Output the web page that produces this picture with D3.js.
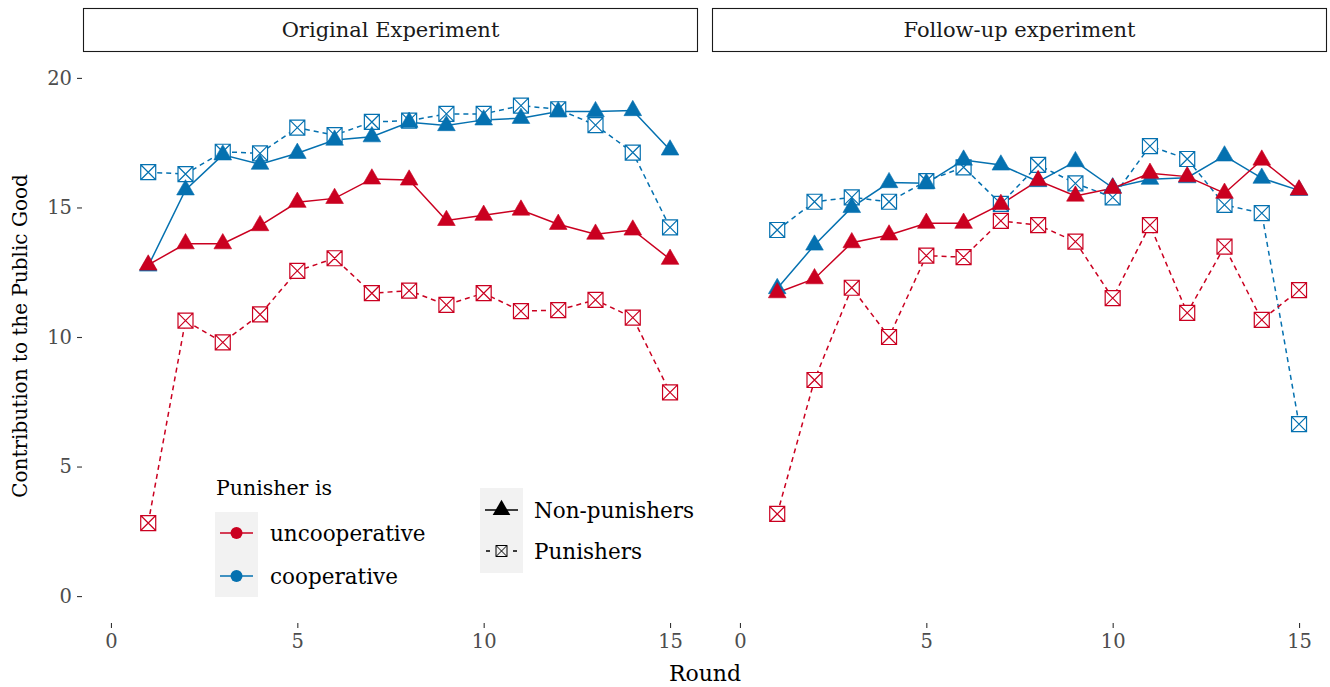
<!DOCTYPE html>
<html>
<head>
<meta charset="utf-8">
<script src="https://cdn.jsdelivr.net/npm/d3@7"></script>
<style>
  body { margin: 0; background: #ffffff; }
  svg { display: block; font-family: "DejaVu Serif", serif; }
</style>
</head>
<body>
<div id="chart"></div>
<script>
// data
var rounds = [1, 2, 3, 4, 5, 6, 7, 8, 9, 10, 11, 12, 13, 14, 15];
var panels = ["Original Experiment", "Follow-up experiment"];

// original experiment
var origUncoopNonPun = [12.78, 13.6, 13.6, 14.3, 15.2, 15.35, 16.1, 16.06, 14.5, 14.7, 14.9, 14.35, 13.97, 14.13, 13.0];
var origCoopNonPun = [12.74, 15.68, 17.03, 16.67, 17.09, 17.6, 17.73, 18.29, 18.16, 18.38, 18.44, 18.7, 18.7, 18.74, 17.22];
var origCoopPun = [16.36, 16.29, 17.15, 17.09, 18.08, 17.79, 18.3, 18.35, 18.61, 18.61, 18.93, 18.79, 18.18, 17.12, 14.23];
var origUncoopPun = [2.82, 10.63, 9.79, 10.87, 12.55, 13.04, 11.69, 11.79, 11.24, 11.69, 11.0, 11.04, 11.43, 10.75, 7.86];

// follow-up experiment
var follUncoopNonPun = [11.71, 12.25, 13.64, 13.94, 14.39, 14.39, 15.12, 16.04, 15.44, 15.74, 16.32, 16.19, 15.55, 16.83, 15.68];
var follCoopNonPun = [11.87, 13.55, 15.0, 15.96, 15.93, 16.83, 16.64, 16.0, 16.77, 15.76, 16.09, 16.15, 16.99, 16.13, 15.66];
var follCoopPun = [14.13, 15.22, 15.39, 15.22, 16.02, 16.55, 15.14, 16.64, 15.93, 15.39, 17.37, 16.87, 15.1, 14.78, 6.64];
var follUncoopPun = [3.17, 8.34, 11.9, 10.0, 13.14, 13.08, 14.48, 14.32, 13.68, 11.5, 14.32, 10.93, 13.49, 10.66, 11.81];

var xTicks = [0, 5, 10, 15];
var yTicks = [0, 5, 10, 15, 20];
var punisherLevels = ["uncooperative", "cooperative"];
var typeLevels = ["Non-punishers", "Punishers"];

var width = 1330,
  height = 687;
var panelLeft = [83, 712],
  panelWidth = 615;
var panelTop = 52,
  panelBottom = 622;

var color = d3.scaleOrdinal().domain(punisherLevels).range(["#CA0020", "#0571B0"]);

var svg = d3
  .select("#chart")
  .append("svg")
  .attr("width", width)
  .attr("height", height);

var y = d3.scaleLinear().domain([-1, 21]).range([panelBottom, panelTop]);

// series for each panel
var panelData = [
  [
    { punisher: "cooperative", type: "Punishers", values: origCoopPun },
    { punisher: "uncooperative", type: "Punishers", values: origUncoopPun },
    { punisher: "cooperative", type: "Non-punishers", values: origCoopNonPun },
    { punisher: "uncooperative", type: "Non-punishers", values: origUncoopNonPun },
  ],
  [
    { punisher: "cooperative", type: "Punishers", values: follCoopPun },
    { punisher: "uncooperative", type: "Punishers", values: follUncoopPun },
    { punisher: "cooperative", type: "Non-punishers", values: follCoopNonPun },
    { punisher: "uncooperative", type: "Non-punishers", values: follUncoopNonPun },
  ],
];

// square with a cross, like ggplot shape 7
function squareX(s) {
  var h = s / 2;
  return "M" + -h + "," + -h + "H" + h + "V" + h + "H" + -h + "Z" +
    "M" + -h + "," + -h + "L" + h + "," + h +
    "M" + h + "," + -h + "L" + -h + "," + h;
}
var triangle = d3.symbol().type(d3.symbolTriangle).size(135);

panels.forEach(function (name, p) {
  var x = d3
    .scaleLinear()
    .domain([-0.75, 15.75])
    .range([panelLeft[p], panelLeft[p] + panelWidth]);

  var g = svg.append("g");

  // strip
  g.append("rect")
    .attr("x", panelLeft[p] + 0.5)
    .attr("y", 8.5)
    .attr("width", panelWidth - 1)
    .attr("height", panelTop - 9)
    .attr("fill", "#ffffff")
    .attr("stroke", "#1a1a1a")
    .attr("stroke-width", 1.1);
  g.append("text")
    .attr("x", panelLeft[p] + panelWidth / 2)
    .attr("y", 30)
    .attr("dy", "0.35em")
    .attr("text-anchor", "middle")
    .attr("font-size", "21px")
    .attr("fill", "#1a1a1a")
    .text(name);

  // x axis
  var xAxis = g
    .append("g")
    .attr("transform", "translate(0," + (panelBottom + 1) + ")")
    .call(d3.axisBottom(x).tickValues(xTicks).tickSize(5).tickPadding(6));
  xAxis.select(".domain").remove();
  xAxis.selectAll("line").attr("stroke", "#333333").attr("stroke-width", 1.1);
  xAxis.selectAll("text").attr("font-size", "19.5px").attr("fill", "#4d4d4d").attr("font-family", "DejaVu Serif, serif");

  var line = d3
    .line()
    .x(function (d, i) { return x(rounds[i]); })
    .y(function (d) { return y(d); });

  // lines
  g.selectAll(".series")
    .data(panelData[p])
    .join("path")
    .attr("class", "series")
    .attr("d", function (d) { return line(d.values); })
    .attr("fill", "none")
    .attr("stroke", function (d) { return color(d.punisher); })
    .attr("stroke-width", 1.5)
    .attr("stroke-dasharray", function (d) { return d.type == "Punishers" ? "5,4" : null; });

  // points
  panelData[p].forEach(function (s) {
    var pts = g
      .append("g")
      .selectAll("path")
      .data(s.values)
      .join("path")
      .attr("transform", function (d, i) { return "translate(" + x(rounds[i]) + "," + y(d) + ")"; })
      .attr("stroke", color(s.punisher));
    if (s.type == "Punishers") {
      pts.attr("d", squareX(15)).attr("fill", "#ffffff").attr("stroke-width", 1.2);
    } else {
      pts.attr("d", triangle).attr("fill", color(s.punisher)).attr("stroke-width", 0.6);
    }
  });
});

// y axis on the left panel
var yAxis = svg
  .append("g")
  .attr("transform", "translate(" + (panelLeft[0] - 1) + ",0)")
  .call(d3.axisLeft(y).tickValues(yTicks).tickSize(5).tickPadding(5));
yAxis.select(".domain").remove();
yAxis.selectAll("line").attr("stroke", "#333333").attr("stroke-width", 1.1);
yAxis.selectAll("text").attr("font-size", "19.5px").attr("fill", "#4d4d4d").attr("font-family", "DejaVu Serif, serif");

// axis titles
svg.append("text")
  .attr("x", 705)
  .attr("y", 673)
  .attr("dy", "0.35em")
  .attr("text-anchor", "middle")
  .attr("font-size", "22px")
  .attr("fill", "#000000")
  .text("Round");
svg.append("text")
  .attr("transform", "translate(20," + 336 + ") rotate(-90)")
  .attr("dy", "0.35em")
  .attr("text-anchor", "middle")
  .attr("font-size", "20px")
  .attr("fill", "#000000")
  .text("Contribution to the Public Good");

// legend: punisher colour
var leg1 = svg.append("g").attr("transform", "translate(215,0)");
leg1.append("text")
  .attr("x", 1)
  .attr("y", 488)
  .attr("dy", "0.35em")
  .attr("font-size", "20.5px")
  .text("Punisher is");
leg1.append("rect")
  .attr("x", 0)
  .attr("y", 512)
  .attr("width", 43)
  .attr("height", 85)
  .attr("fill", "#f2f2f2");
punisherLevels.forEach(function (k, i) {
  var cy = 533 + i * 43;
  leg1.append("line")
    .attr("x1", 5).attr("x2", 38)
    .attr("y1", cy).attr("y2", cy)
    .attr("stroke", color(k))
    .attr("stroke-width", 1.5);
  leg1.append("circle")
    .attr("cx", 21.5).attr("cy", cy).attr("r", 6)
    .attr("fill", color(k));
  leg1.append("text")
    .attr("x", 55)
    .attr("y", cy)
    .attr("dy", "0.35em")
    .attr("font-size", "21.5px")
    .text(k);
});

// legend: line type
var leg2 = svg.append("g").attr("transform", "translate(480,0)");
leg2.append("rect")
  .attr("x", 0)
  .attr("y", 488)
  .attr("width", 43)
  .attr("height", 85)
  .attr("fill", "#f2f2f2");
typeLevels.forEach(function (k, i) {
  var cy = 510 + i * 41;
  leg2.append("line")
    .attr("x1", 5).attr("x2", 38)
    .attr("y1", cy).attr("y2", cy)
    .attr("stroke", "#000000")
    .attr("stroke-width", 1.5)
    .attr("stroke-dasharray", i == 1 ? "4,5" : null)
    .attr("stroke-dashoffset", i == 1 ? -1 : null);
  if (i == 0) {
    leg2.append("path")
      .attr("d", triangle)
      .attr("transform", "translate(21.5," + cy + ")")
      .attr("fill", "#000000");
  } else {
    leg2.append("rect")
      .attr("x", 14.5).attr("y", cy - 7.5)
      .attr("width", 15).attr("height", 15)
      .attr("fill", "#f2f2f2");
    leg2.append("path")
      .attr("d", squareX(11))
      .attr("transform", "translate(21.5," + cy + ")")
      .attr("fill", "#f2f2f2")
      .attr("stroke", "#000000")
      .attr("stroke-width", 1);
  }
  leg2.append("text")
    .attr("x", 54)
    .attr("y", cy)
    .attr("dy", "0.35em")
    .attr("font-size", "21.5px")
    .text(k);
});
</script>
</body>
</html>
